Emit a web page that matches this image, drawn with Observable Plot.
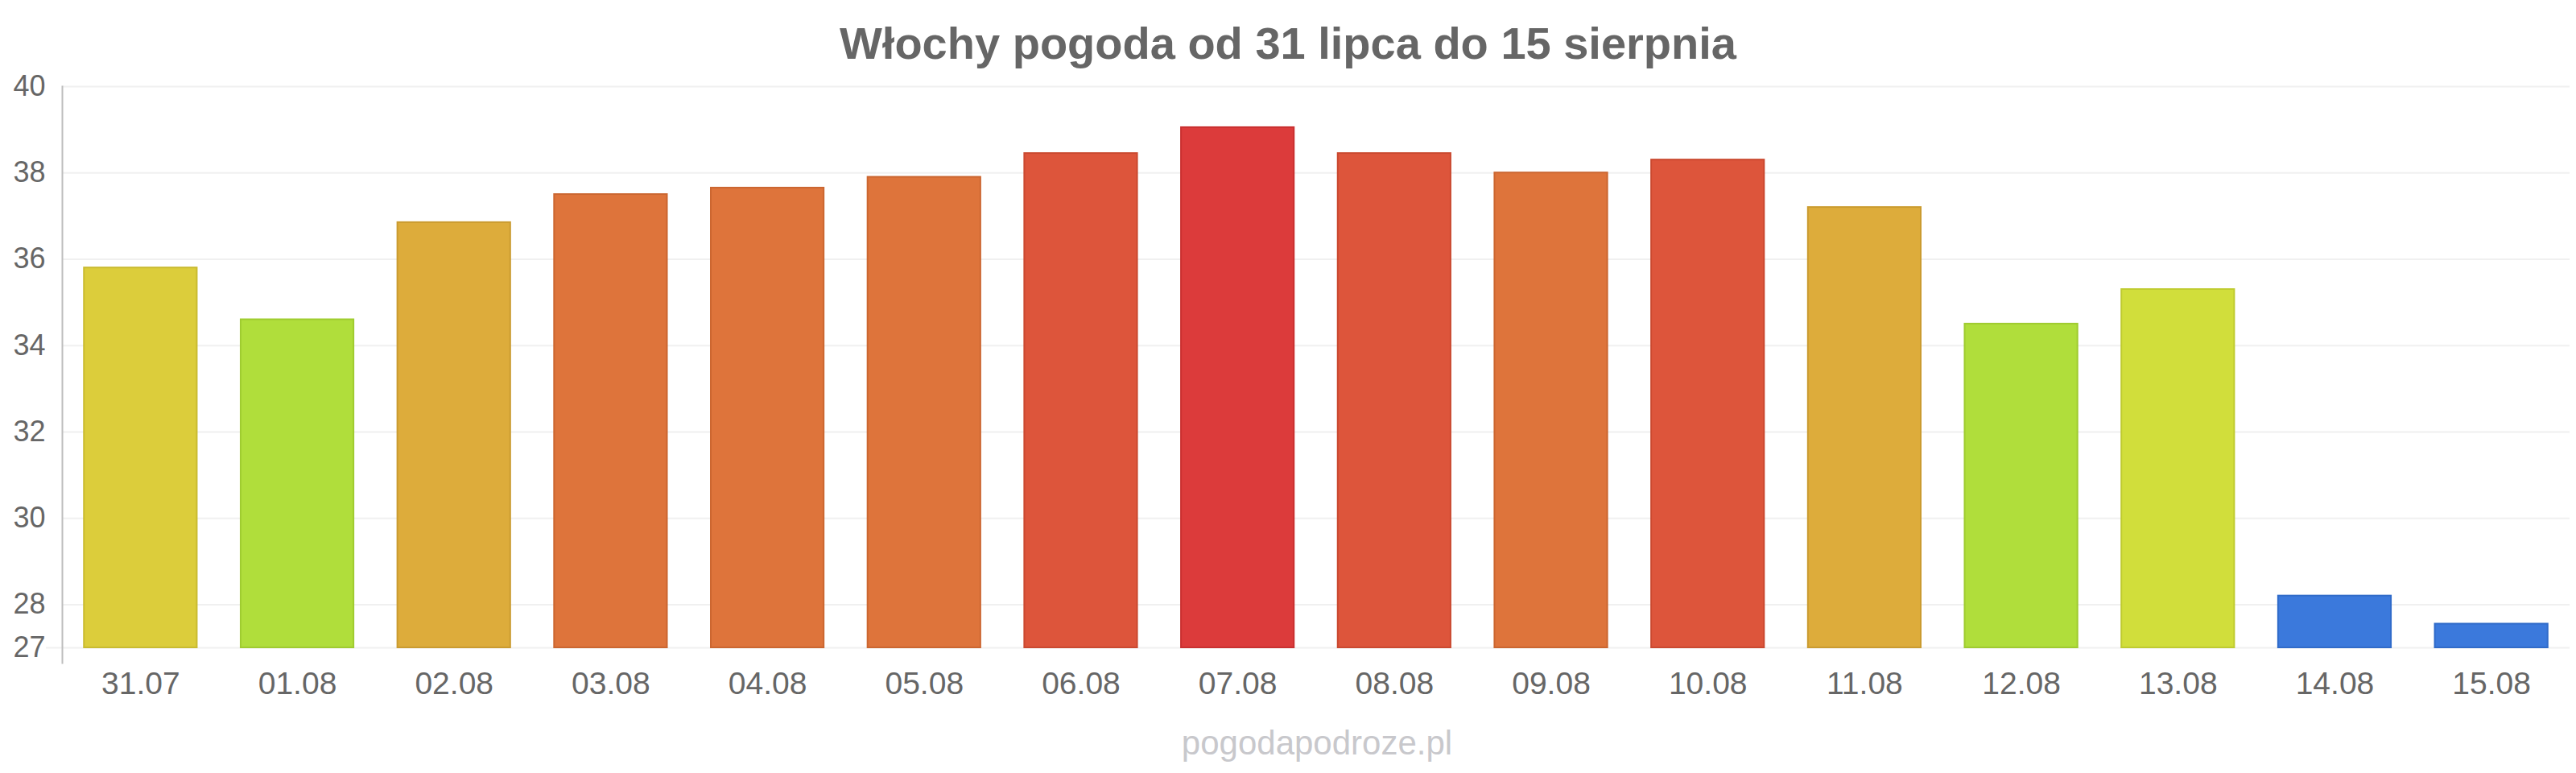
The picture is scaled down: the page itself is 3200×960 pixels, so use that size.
<!DOCTYPE html>
<html>
<head>
<meta charset="utf-8">
<script src="https://cdn.jsdelivr.net/npm/d3@7"></script>
<script src="https://cdn.jsdelivr.net/npm/@observablehq/plot@0.6"></script>
<style>
  html, body { margin: 0; padding: 0; background: #fff; }
  #wrap { position: relative; width: 3200px; height: 960px; font-family: "Liberation Sans", Arial, sans-serif; }
  #title { position: absolute; left: 0; top: 25.6px; width: 3200px; text-align: center; font-size: 56px; line-height: 56px; font-weight: bold; color: #666; }
  #footer { position: absolute; left: 636px; top: 902px; width: 2000px; text-align: center; font-size: 42px; line-height: 42px; color: #c8c8cc; }
  #chart { position: absolute; left: 0; top: 0; }
</style>
</head>
<body>
<div id="wrap">
  <div id="chart"></div>
  <div id="title">Włochy pogoda od 31 lipca do 15 sierpnia</div>
  <div id="footer">pogodapodroze.pl</div>
</div>
<script>
// ---- data ----
const days = ["31.07","01.08","02.08","03.08","04.08","05.08","06.08","07.08","08.08","09.08","10.08","11.08","12.08","13.08","14.08","15.08"];
const temps = [35.8, 34.6, 36.85, 37.5, 37.65, 37.9, 38.45, 39.05, 38.45, 38.0, 38.3, 37.2, 34.5, 35.3, 28.2, 27.55];
const yTicks = [27, 28, 30, 32, 34, 36, 38, 40];
const yMin = 27, yMax = 40;
// colour bins by temperature
const colorThresholds = [30, 35, 35.5, 36, 37.4, 38.2, 39];
const colorRange = ["#3575db", "#addd35", "#d0dd35", "#dbcb35", "#dca935", "#dd6f35", "#dc5035", "#db3535"];

const data = days.map((d, i) => ({day: d, temp: temps[i]}));

const chart = Plot.plot({
  width: 3200,
  height: 960,
  marginLeft: 77,
  marginRight: 8,
  marginTop: 107,
  marginBottom: 156,
  style: {fontFamily: "'Liberation Sans', Arial, sans-serif", background: "transparent", color: "#666"},
  x: {domain: days, paddingInner: 0.28, paddingOuter: 0.14, round: false, label: null},
  y: {domain: [yMin, yMax], label: null},
  color: {type: "threshold", domain: colorThresholds, range: colorRange},
  marks: [
    Plot.gridY(yTicks, {stroke: "#f0f0f0", strokeOpacity: 1, strokeWidth: 2}),
    Plot.axisY([yMin], {tickSize: 20, stroke: "#f0f0f0", strokeWidth: 2, strokeOpacity: 1, text: null}),
    Plot.barY(data, {x: "day", y1: yMin, y2: "temp", fill: "temp", stroke: "temp", strokeWidth: 2, fillOpacity: 0.97}),
    Plot.barY(data, {x: "day", y1: yMin, y2: "temp", fill: "none", stroke: "black", strokeOpacity: 0.08, strokeWidth: 2}),
    Plot.frame({anchor: "left", stroke: "#bdbdbd", strokeWidth: 2, insetBottom: -19}),
    Plot.axisY(yTicks, {tickSize: 0, tickPadding: 21, fontSize: 36, fill: "#666", label: null, tickFormat: d3.format("d")}),
    Plot.axisX({tickSize: 0, tickPadding: 30, fontSize: 39, fill: "#666", label: null})
  ]
});
document.getElementById("chart").appendChild(chart);
</script>
</body>
</html>
